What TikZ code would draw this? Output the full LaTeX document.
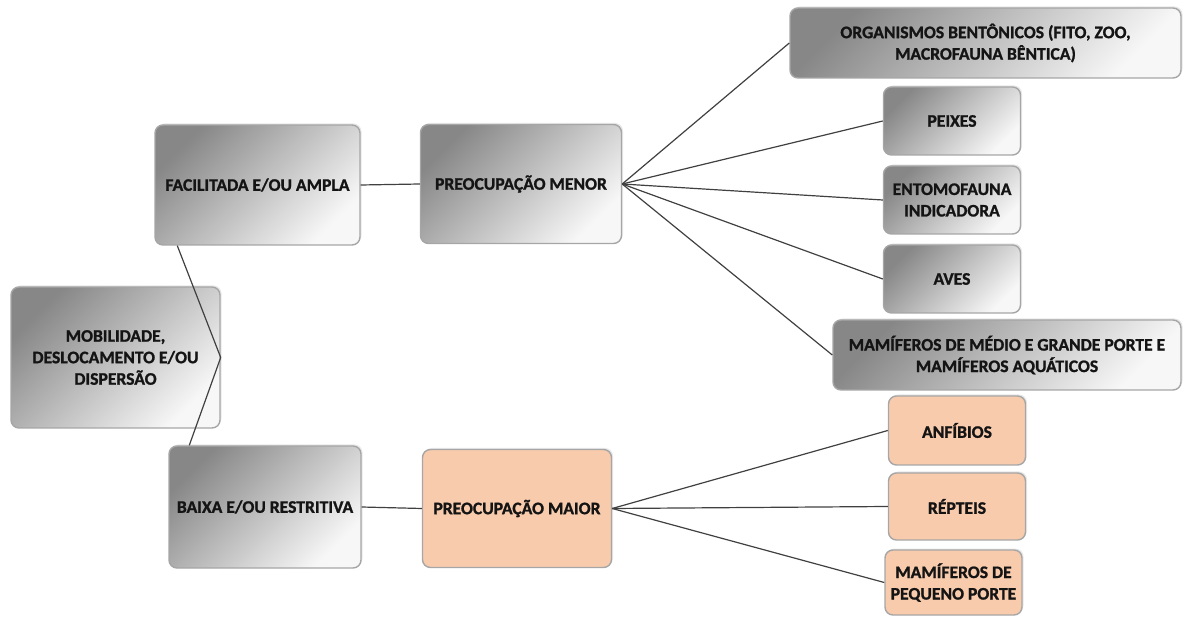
\documentclass[tikz,border=0pt]{standalone}
\usepackage{fontspec}
\setmainfont{Carlito}
\newfontfamily\boxfont{Carlito}[BoldFeatures={FakeBold=1.2}]
\usetikzlibrary{shadows}
\definecolor{edgegray}{HTML}{A6A6A6}
\definecolor{linkgray}{HTML}{404040}
\definecolor{peach}{HTML}{F8CBAD}
\definecolor{txt}{HTML}{141414}
\tikzset{
  box/.style={rectangle, rounded corners=8pt, draw=edgegray, line width=1.4pt,
    align=center, inner sep=0pt, text=txt,
    font=\boxfont\fontsize{17.6}{21.5}\selectfont\bfseries,
    drop shadow={opacity=0.18, shadow xshift=1.5pt, shadow yshift=1.5pt}},
  graybox/.style={box, top color=black!47, bottom color=black!3, shading angle=45},
  peachbox/.style={box, fill=peach},
  link/.style={draw=linkgray, line width=1.2pt},
}
\begin{document}
\begin{tikzpicture}[x=1pt, y=-1pt]
\useasboundingbox (0,0) rectangle (1184,617);

% root and first level
\node[graybox, minimum width=209pt, minimum height=141pt] (mob) at (115.5,357.5)
  {MOBILIDADE,\\DESLOCAMENTO E/OU\\DISPERSÃO};
\node[graybox, minimum width=205pt, minimum height=120pt] (fac) at (257.5,185)
  {FACILITADA E/OU AMPLA};
\node[graybox, minimum width=192pt, minimum height=122pt] (bai) at (265,507)
  {BAIXA E/OU RESTRITIVA};

% concern level
\node[graybox, minimum width=201pt, minimum height=119pt] (men) at (521,184)
  {PREOCUPAÇÃO MENOR};
\node[peachbox, minimum width=189pt, minimum height=118pt] (mai) at (517,508.5)
  {PREOCUPAÇÃO MAIOR};

% groups of lesser concern
\node[graybox, minimum width=391pt, minimum height=70pt] (org) at (985.5,43)
  {ORGANISMOS BENTÔNICOS (FITO, ZOO,\\MACROFAUNA BÊNTICA)};
\node[graybox, minimum width=137pt, minimum height=68pt] (pei) at (952,121)
  {PEIXES};
\node[graybox, minimum width=137pt, minimum height=68pt] (ent) at (952,200)
  {ENTOMOFAUNA\\INDICADORA};
\node[graybox, minimum width=137pt, minimum height=68pt] (ave) at (952,279)
  {AVES};
\node[graybox, minimum width=348pt, minimum height=70pt] (mmg) at (1007,355)
  {MAMÍFEROS DE MÉDIO E GRANDE PORTE E\\MAMÍFEROS AQUÁTICOS};

% groups of greater concern
\node[peachbox, minimum width=137pt, minimum height=69pt] (anf) at (957,430.5)
  {ANFÍBIOS};
\node[peachbox, minimum width=137pt, minimum height=67pt] (rep) at (957,506.5)
  {RÉPTEIS};
\node[peachbox, minimum width=137pt, minimum height=65pt] (mpp) at (953.5,582.5)
  {MAMÍFEROS DE\\PEQUENO PORTE};

% connectors
\draw[link] ([xshift=23pt]fac.south west) -- (mob.east) -- ([xshift=21pt]bai.north west);
\draw[link] (fac.east) -- (men.west);
\draw[link] (bai.east) -- (mai.west);
\foreach \t in {org,pei,ent,ave,mmg}
  \draw[link] (men.east) -- (\t.west);
\foreach \t in {anf,rep,mpp}
  \draw[link] (mai.east) -- (\t.west);
\end{tikzpicture}
\end{document}
